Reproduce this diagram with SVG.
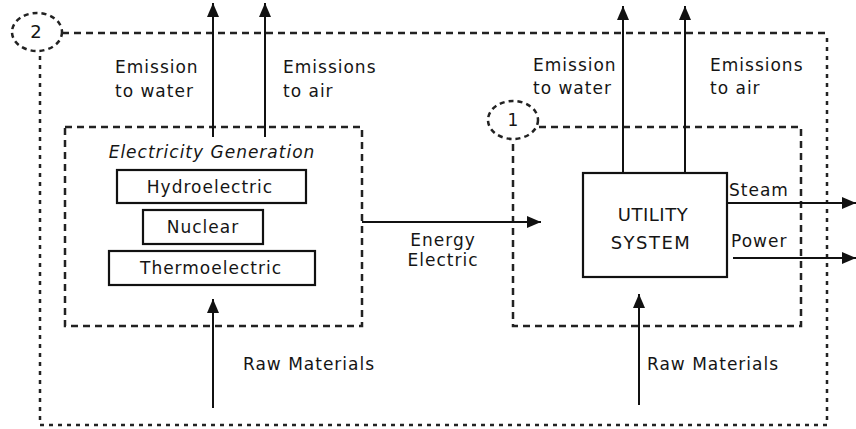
<svg xmlns="http://www.w3.org/2000/svg" width="856" height="429" viewBox="0 0 856 429">
<defs>
<marker id="ah" markerWidth="14" markerHeight="12" refX="14" refY="6" orient="auto" markerUnits="userSpaceOnUse">
<path d="M0,0 L14,6 L0,12 Z" fill="#111"/>
</marker>
</defs>
<style>
text{font-family:"DejaVu Sans","Liberation Sans",Arial,sans-serif;font-size:17px;fill:#151515;letter-spacing:1px}
.box{fill:none;stroke:#111;stroke-width:2.2}
.dash{fill:none;stroke:#222;stroke-width:2.5;stroke-dasharray:7 5}
.dot{fill:none;stroke:#222;stroke-width:2.5;stroke-dasharray:4 5}
.arr{fill:none;stroke:#111;stroke-width:2;marker-end:url(#ah)}
.c{text-anchor:middle}
.u{font-size:18px;letter-spacing:0.5px}
</style>
<rect width="856" height="429" fill="#fff"/>
<g id="boundary2">
<path class="dash" d="M62,33 L827,33"/>
<path class="dot" d="M827,38 L827,425 L40,425 L40,52"/>
<ellipse class="dash" cx="37" cy="32" rx="25" ry="19" style="stroke-dasharray:5 4"/>
<text x="36" y="38" class="c" style="font-size:18px;letter-spacing:0">2</text>
</g>
<g id="electricity-generation">
<rect class="dash" x="65" y="127" width="297" height="199"/>
<text x="212" y="158" class="c" style="font-style:italic">Electricity Generation</text>
</g>
<g id="hydroelectric">
<rect class="box" x="117" y="170" width="189" height="33"/>
<text x="210" y="193" class="c">Hydroelectric</text>
</g>
<g id="nuclear">
<rect class="box" x="143" y="210" width="120" height="34"/>
<text x="203" y="233" class="c">Nuclear</text>
</g>
<g id="thermoelectric">
<rect class="box" x="109" y="251" width="206" height="34"/>
<text x="211" y="274" class="c">Thermoelectric</text>
</g>
<g id="boundary1">
<path class="dash" d="M539,127 L801,127 L801,326 L513,326 L513,140"/>
<ellipse class="dash" cx="513" cy="120" rx="25" ry="19" style="stroke-dasharray:5 4"/>
<text x="513" y="126" class="c" style="letter-spacing:0">1</text>
</g>
<g id="utility-system">
<rect class="box" x="583" y="173" width="144" height="104"/>
<text x="653" y="221" class="c u">UTILITY</text>
<text x="651" y="249" class="c u" style="letter-spacing:1.5px">SYSTEM</text>
</g>
<g id="connectors">
<path class="arr" d="M213,137 L213,3"/>
<path class="arr" d="M265,137 L265,3"/>
<path class="arr" d="M623,173 L623,6"/>
<path class="arr" d="M685,173 L685,6"/>
<path class="arr" d="M362,222 L541,222"/>
<path class="arr" d="M727,203 L856,203"/>
<path class="arr" d="M733,258 L856,258"/>
<path class="arr" d="M213,408 L213,299"/>
<path class="arr" d="M639,405 L639,294"/>
</g>
<g id="labels">
<text x="115" y="73">Emission</text>
<text x="115" y="97">to water</text>
<text x="283" y="73">Emissions</text>
<text x="283" y="97">to air</text>
<text x="533" y="71">Emission</text>
<text x="533" y="94">to water</text>
<text x="710" y="71">Emissions</text>
<text x="710" y="94">to air</text>
<text x="443" y="246" class="c">Energy</text>
<text x="443" y="266" class="c">Electric</text>
<text x="729" y="196">Steam</text>
<text x="731" y="247">Power</text>
<text x="243" y="370">Raw Materials</text>
<text x="647" y="370">Raw Materials</text>
</g>
</svg>
